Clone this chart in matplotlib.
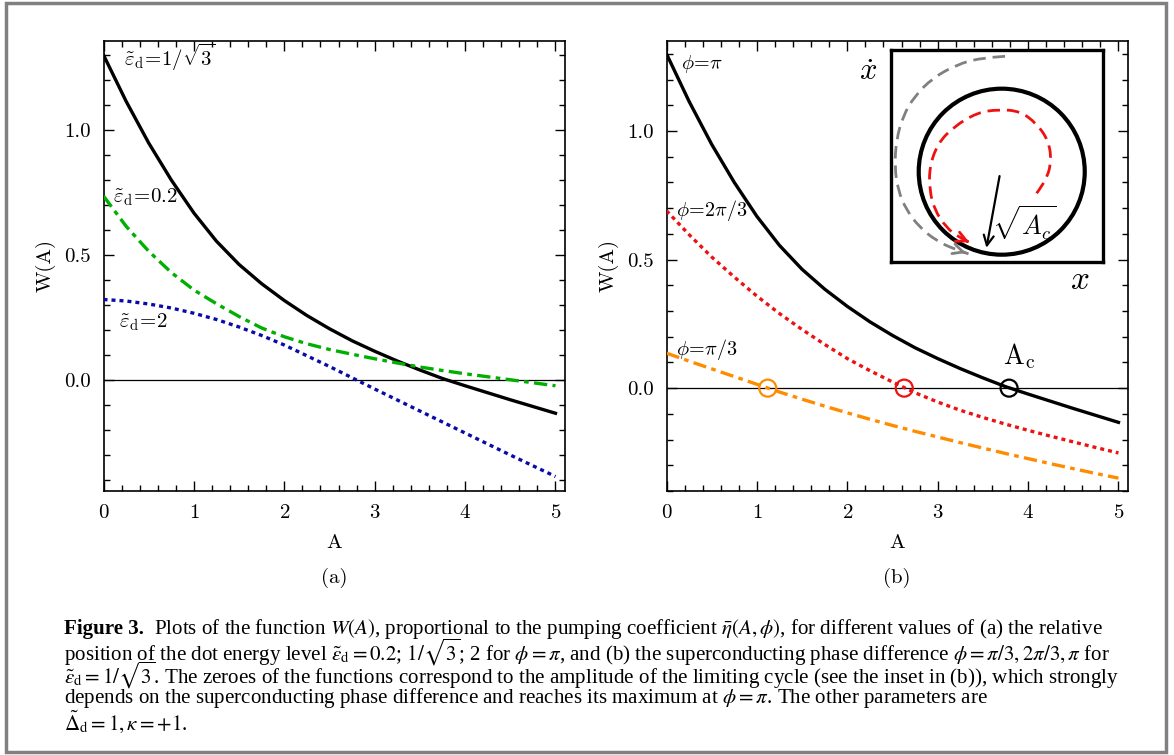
import matplotlib
matplotlib.use("Agg")
import matplotlib.pyplot as plt
from matplotlib.patches import Circle, Rectangle, PathPatch
from matplotlib.path import Path

plt.rcParams['font.family'] = ['cmr10']
plt.rcParams['mathtext.fontset'] = 'cm'
plt.rcParams['axes.formatter.use_mathtext'] = True
plt.rcParams['axes.unicode_minus'] = False

# ---- data ----
A = [0, 0.25, 0.5, 0.75, 1.0, 1.25, 1.5, 1.75, 2.0, 2.25, 2.5,
     2.75, 3.0, 3.25, 3.5, 3.75, 4.0, 4.25, 4.5, 4.75, 5.0]

# panel (a): phi = pi
w_eps_sqrt3 = [1.30, 1.115, 0.948, 0.800, 0.668, 0.555, 0.462, 0.385, 0.318, 0.258, 0.205,
               0.157, 0.115, 0.076, 0.040, 0.006, -0.023, -0.051, -0.079, -0.106, -0.133]
w_eps_02 = [0.736, 0.615, 0.515, 0.430, 0.360, 0.305, 0.254, 0.208, 0.173, 0.145, 0.122,
            0.103, 0.085, 0.068, 0.052, 0.038, 0.025, 0.013, 0.001, -0.011, -0.023]
w_eps_2 = [0.322, 0.316, 0.304, 0.288, 0.267, 0.242, 0.212, 0.178, 0.140, 0.097, 0.054,
           0.009, -0.036, -0.080, -0.124, -0.168, -0.212, -0.256, -0.300, -0.343, -0.386]

# panel (b): eps_d = 1/sqrt(3)
w_phi_pi = w_eps_sqrt3
w_phi_2pi3 = [0.690, 0.597, 0.510, 0.432, 0.358, 0.290, 0.228, 0.170, 0.115, 0.068, 0.024,
              -0.018, -0.054, -0.086, -0.114, -0.140, -0.164, -0.187, -0.209, -0.231, -0.252]
w_phi_pi3 = [0.136, 0.105, 0.075, 0.045, 0.015, -0.015, -0.043, -0.070, -0.096, -0.121, -0.145,
             -0.168, -0.190, -0.212, -0.233, -0.254, -0.274, -0.294, -0.313, -0.332, -0.350]

# zeros (limiting cycle amplitudes)
zeros_A = [1.12, 2.63, 3.79]
zeros_col = ['#ff8c00', '#ee1111', 'black']

# inset sketch: spiral trajectories in units of the cycle radius
red_x = [0.42, 0.54, 0.60, 0.56, 0.42, 0.22, -0.04, -0.30, -0.58, -0.77, -0.87, -0.87, -0.81, -0.67, -0.52, -0.39]
red_y = [-0.26, -0.10, 0.14, 0.38, 0.58, 0.73, 0.75, 0.71, 0.54, 0.34, 0.06, -0.22, -0.46, -0.67, -0.79, -0.85]
gray_x = [0.04, -0.26, -0.54, -0.83, -1.05, -1.19, -1.27, -1.29, -1.25, -1.15, -0.99, -0.79, -0.58, -0.40]
gray_y = [1.39, 1.37, 1.29, 1.13, 0.91, 0.67, 0.38, 0.06, -0.22, -0.46, -0.67, -0.83, -0.93, -0.99]

W, H = 1174, 755
fig = plt.figure(figsize=(W / 100, H / 100), dpi=100)


def px_axes(x0, y0, x1, y1):
    return fig.add_axes([x0 / W, 1 - y1 / H, (x1 - x0) / W, (y1 - y0) / H])


def style_axes(ax, ylim):
    ax.set_xlim(0, 5.1)
    ax.set_ylim(*ylim)
    ax.set_xticks([0, 1, 2, 3, 4, 5])
    ax.set_yticks([0.0, 0.5, 1.0])
    ax.set_yticklabels(['0.0', '0.5', '1.0'])
    ax.set_xticks([i * 0.2 for i in range(26)], minor=True)
    ax.set_yticks([i * 0.1 - 0.4 for i in range(18)], minor=True)
    ax.tick_params(which='both', direction='in', top=True, right=True, width=1)
    ax.tick_params(which='major', length=7, labelsize=15, pad=9)
    ax.tick_params(which='minor', length=4)
    for s in ax.spines.values():
        s.set_linewidth(1.2)
    ax.axhline(0, color='black', lw=0.9, zorder=1)
    ax.set_xlabel('A', fontsize=15)
    ax.set_ylabel('W(A)', fontsize=15)
    ax.xaxis.set_label_coords(0.5, -0.095)
    ax.yaxis.set_label_coords(-0.104, 0.5)


def smooth_spiral(ax, xs, ys, color):
    # quadratic bezier chain through the read points, arrow head at the end
    pts = list(zip(xs, ys))
    verts = [pts[0]]
    codes = [Path.MOVETO]
    for i in range(1, len(pts) - 2):
        mid = ((pts[i][0] + pts[i + 1][0]) / 2, (pts[i][1] + pts[i + 1][1]) / 2)
        verts += [pts[i], mid]
        codes += [Path.CURVE3, Path.CURVE3]
    verts += [pts[-2], pts[-1]]
    codes += [Path.CURVE3, Path.CURVE3]
    ax.add_patch(PathPatch(Path(verts, codes), fill=False, edgecolor=color, lw=2,
                           linestyle=(0, (4.5, 2.5))))
    dx, dy = pts[-1][0] - pts[-2][0], pts[-1][1] - pts[-2][1]
    ax.annotate('', xy=pts[-1], xytext=(pts[-1][0] - 0.4 * dx, pts[-1][1] - 0.4 * dy),
                arrowprops=dict(arrowstyle='->', color=color, lw=2, mutation_scale=18))


# ---- panel (a) ----
ax1 = px_axes(103.5, 41, 564.5, 491)
ax1.plot(A, w_eps_sqrt3, color='black', lw=2.4, zorder=3)
ax1.plot(A, w_eps_02, color='#00b000', lw=2.4, dashes=(4, 1.6, 1.4, 1.6), zorder=3)
ax1.plot(A, w_eps_2, color='#0a0aa8', lw=2.4, dashes=(1.2, 1.2), zorder=3)
style_axes(ax1, (-0.444, 1.356))
ax1.text(0.23, 1.29, r'$\tilde{\varepsilon}_{\rm d}\!=\!1/\sqrt{3}$', fontsize=15, va='center')
ax1.text(0.10, 0.73, r'$\tilde{\varepsilon}_{\rm d}\!=\!0.2$', fontsize=15, va='center')
ax1.text(0.17, 0.23, r'$\tilde{\varepsilon}_{\rm d}\!=\!2$', fontsize=15, va='center')
ax1.text(0.5, -0.171, '(a)', transform=ax1.transAxes, ha='center', va='top', fontsize=15)

# ---- panel (b) ----
ax2 = px_axes(666.5, 41, 1127.5, 491)
ax2.plot(A, w_phi_pi, color='black', lw=2.4, zorder=3)
ax2.plot(A, w_phi_2pi3, color='#ee1111', lw=2.4, dashes=(1.2, 1.2), zorder=3)
ax2.plot(A, w_phi_pi3, color='#ff8c00', lw=2.4, dashes=(4, 1.6, 1.4, 1.6), zorder=3)
ax2.scatter(zeros_A, [0, 0, 0], s=150, facecolors='none', edgecolors=zeros_col,
            linewidths=1.6, zorder=4)
style_axes(ax2, (-0.394, 1.35))
ax2.text(0.16, 1.26, r'$\phi\!=\!\pi$', fontsize=14.5, va='center')
ax2.text(0.10, 0.69, r'$\phi\!=\!2\pi/3$', fontsize=14.5, va='center')
ax2.text(0.10, 0.15, r'$\phi\!=\!\pi/3$', fontsize=14.5, va='center')
ax2.text(3.72, 0.125, r'A$_{\rm c}$', fontsize=20, va='center')
ax2.text(0.5, -0.171, '(b)', transform=ax2.transAxes, ha='center', va='top', fontsize=15)

# ---- inset ----
ins = px_axes(891, 50, 1103, 262)
ins.set_xlim(-1.334, 1.22)
ins.set_ylim(-1.088, 1.466)
ins.set_xticks([])
ins.set_yticks([])
for s in ins.spines.values():
    s.set_linewidth(2.4)
ins.add_patch(Circle((0, 0), 1.0, fill=False, lw=3, color='black'))
smooth_spiral(ins, red_x, red_y, '#ee1111')
smooth_spiral(ins, gray_x, gray_y, '#808080')
ins.annotate('', xy=(-0.19, -0.95), xytext=(-0.02, -0.02),
             arrowprops=dict(arrowstyle='->', color='black', lw=1.6, mutation_scale=18))
ins.text(-0.12, -0.62, r'$\sqrt{A_c}$', fontsize=19, va='center')
fig.text(868 / W, 1 - 72 / H, r'$\dot{x}$', fontsize=22, ha='center', va='center')
fig.text(1080 / W, 1 - 280 / H, r'$x$', fontsize=24, ha='center', va='center')

# ---- caption ----
cap = dict(fontsize=15.1, family='Liberation Serif', math_fontfamily='stix', va='center')
fig.text(64 / W, 1 - 629 / H, 'Figure 3.', fontweight='bold', **cap)
fig.text(154 / W, 1 - 629 / H,
         r'Plots of the function $W(A)$, proportional to the pumping coefficient '
         r'$\bar{\eta}(A,\phi)$, for different values of (a) the relative', **cap)
fig.text(64 / W, 1 - 652 / H,
         r'position of the dot energy level $\tilde{\varepsilon}_{\mathrm{d}}=0.2$; $1/\sqrt{3}$; 2 '
         r'for $\phi=\pi$, and (b) the superconducting phase difference $\phi=\pi/3,2\pi/3,\pi$ for', **cap)
fig.text(64 / W, 1 - 675 / H,
         r'$\tilde{\varepsilon}_{\mathrm{d}}=1/\sqrt{3}$. The zeroes of the functions correspond to the '
         r'amplitude of the limiting cycle (see the inset in (b)), which strongly', **cap)
fig.text(64 / W, 1 - 698 / H,
         r'depends on the superconducting phase difference and reaches its maximum at '
         r'$\phi=\pi$. The other parameters are', **cap)
fig.text(64 / W, 1 - 722 / H, r'$\tilde{\Delta}_{\mathrm{d}}=1,\kappa=+1$.', **cap)

# grey frame around the whole figure
fig.patches.append(Rectangle((6 / W, 3 / H), 1160 / W, 749 / H, transform=fig.transFigure,
                             fill=False, edgecolor='#808080', lw=2.5))

fig.savefig('out.png', dpi=100)
